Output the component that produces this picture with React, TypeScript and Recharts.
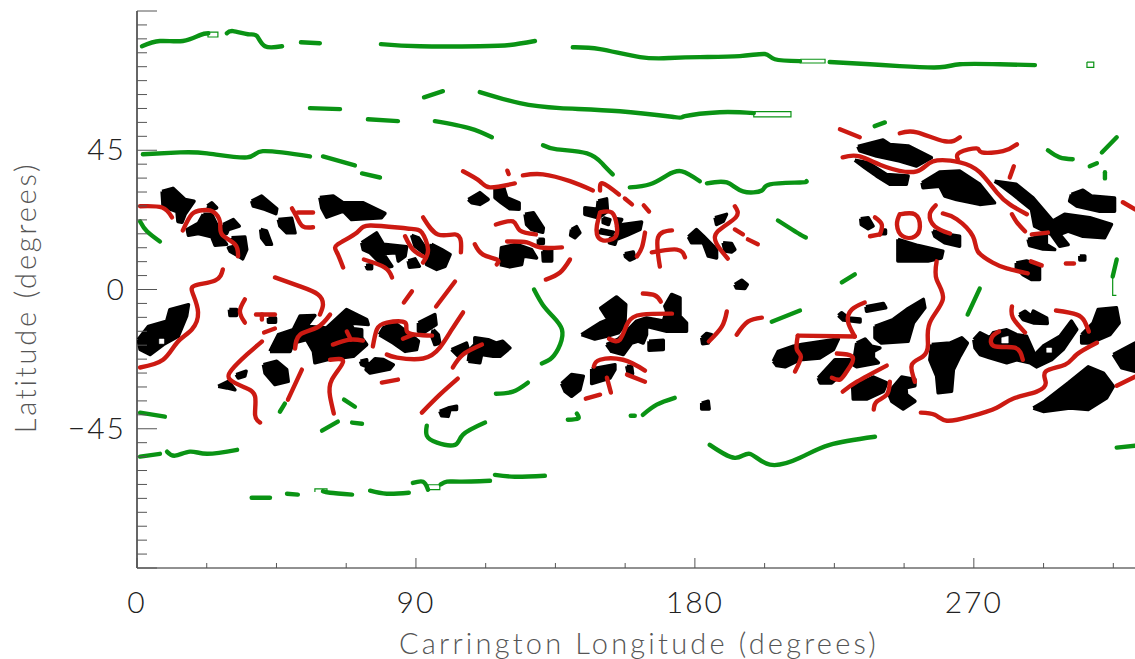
import React from 'react';
import { ScatterChart, Scatter, XAxis, YAxis } from 'recharts';

// each feature is a flat list: lon, lat, lon, lat ... in degrees
const greenLines: number[][] = [
  [1.6, 78.6, 7.4, 80.3, 14.8, 80.3, 20.3, 82.2, 23, 82.8],
  [29, 82.8, 31, 83.5, 35.8, 82.5, 38.7, 81.9, 41.3, 78.6, 46.8, 78.6],
  [52.9, 79.9, 59, 79.6],
  [78.7, 79.3, 91.3, 78.6, 110.6, 78.6, 120.3, 79, 128.4, 80.3],
  [140.6, 78.3, 149.4, 77.7, 162.3, 75.1, 171.9, 74.8, 181.6, 75.1, 194.5, 75.4, 202.6, 76.1, 205.8, 74.4, 213.9, 73.8],
  [223.5, 73.5, 236.5, 72.8, 246.1, 72.2, 259, 71.8, 265.5, 72.8, 278.4, 72.8, 289.7, 72.5],
  [55.8, 58.6, 65.5, 58.3],
  [74.5, 55, 84.2, 54.4],
  [92.6, 62.1, 98.7, 64.1],
  [110.6, 63.8, 123.5, 60.2, 136.5, 58.6, 155.8, 57.6, 173.5, 55.7, 176.8, 56, 188, 57.3, 199, 57],
  [96.1, 54.4, 107.4, 52.1, 114.5, 49.2],
  [1.9, 43.7, 13.9, 44.3, 22.6, 44, 35.5, 42.7, 40.6, 44.7, 55.8, 43],
  [60, 43, 70.3, 40.1],
  [72.6, 37.5, 78.4, 36.2],
  [131, 46.6, 135.5, 45.3, 145.2, 44, 150.3, 40.5, 153.5, 37.2],
  [159, 33, 165.5, 34, 171, 36.9, 175.8, 38.2, 181.6, 35],
  [183.9, 34.3, 190.3, 34.6, 195.5, 31.7, 201.6, 32, 204.2, 34, 213.9, 34.6, 216, 35],
  [206.8, 22.3, 213.9, 17.8, 215.8, 16.8],
  [1, 22, 3.2, 18.8, 7.4, 15.5],
  [238, 52.8, 241.3, 54],
  [293.9, 45, 297.7, 42.7, 301.9, 42.1],
  [311.3, 44.3, 316.1, 49.2],
  [307.4, 39.8, 309.7, 40.8],
  [312.3, 37.9, 312.3, 35.9],
  [227.4, 2.3, 231.6, 4.9],
  [316.1, 9.7, 314.8, 4.2],
  [268, -8.1, 271.9, 0.3],
  [204.8, -10.4, 213.9, -6.8],
  [128.1, 0, 130.9, -4.9, 134.2, -8.7, 137.1, -12.9, 136.5, -17.8, 133.9, -22, 130.6, -23.9],
  [115.8, -33.7, 121.3, -33, 126.1, -30.1],
  [139, -42.1, 142.3, -41.7, 141.9, -40.1],
  [159.3, -40.8, 160.6, -40.8],
  [163.2, -40.5, 167.7, -37.2, 173.5, -35],
  [1, -39.8, 9, -41.1],
  [46.1, -39.5, 47.7, -36.9],
  [59.7, -45.6, 64.8, -42.7],
  [66.8, -35.6, 70.3, -37.9],
  [69.4, -43, 72.6, -43.4],
  [93.5, -44, 93.5, -47.2, 96.8, -49.5, 102.6, -50.2, 105.2, -46.9, 112.3, -43],
  [1, -54, 7.4, -53.1],
  [9.7, -52.4, 12.3, -53.7, 17.1, -52.4, 22.6, -53.1, 32.3, -51.8],
  [37, -67.3, 42.9, -67.3],
  [48.4, -66, 51.9, -66.3],
  [60, -65.2, 62.3, -65.7, 69.4, -66.3],
  [75.2, -65, 80.6, -66, 87.7, -65.7],
  [89, -62.5, 92.3, -62.1, 93.9, -64.7],
  [98, -63, 100, -62.1, 104.2, -62.1, 113.9, -61.8],
  [115.5, -59.9, 121.9, -60.5, 131.6, -60.2],
  [184.8, -50.2, 192.9, -54.4, 197.7, -53.1, 204.2, -56.6, 213.9, -54.4, 223.5, -50.2, 238.1, -47.6],
  [316.1, -51.1, 322, -50.5],
];

// hollow stretches of the green traces, only an outline is drawn
const greenOutlines: number[][] = [
  [22.9, 83.2, 26.1, 83.2, 26.1, 81.6, 22.9, 81.6, 22.9, 83.2],
  [214, 74.4, 222, 74.4, 222, 73.2, 214, 73.2, 214, 74.4],
  [199, 57.5, 211, 57.5, 211, 55.8, 199, 55.8, 199, 57.5],
  [306.5, 73.5, 308.7, 73.5, 308.7, 71.8, 306.5, 71.8, 306.5, 73.5],
  [57.4, -65.4, 57.4, -64.4, 61.3, -64.4, 61.3, -65.4],
  [93.9, -63.1, 97.7, -63.1, 97.7, -64.7, 93.9, -64.7, 93.9, -63.1],
  [314.8, 4.2, 314.8, -1.9, 316, -1.9],
];

const redLines: number[][] = [
  [1, 26.9, 8.1, 26.5, 11.3, 23.3],
  [14.8, 19.1, 17.7, 24.3, 21, 25.6, 24.5, 25.2, 26.8, 21.7, 27.4, 17.8, 31.6, 14.6, 32.6, 10.7],
  [50, 26.2, 51.6, 23.3, 53.5, 20.4, 56.8, 20.1],
  [51.9, 24.9, 56.8, 24.9],
  [66.5, 7.1, 64.5, 12, 64.8, 14.6, 71, 18.4, 75.2, 20.7, 87.1, 19.7, 91.9, 18.4, 93.9, 12.9, 92.3, 8.7],
  [86.5, 17.2, 89, 12.9, 92.3, 10.7],
  [92.3, 23.3, 97.1, 17.8, 102.6, 17.8, 104.5, 15.5, 104.5, 12],
  [73.2, 9.7, 80, 7.1, 82.3, 3.9],
  [27.7, 6.5, 25.2, 2.9, 18.7, 1.3, 18.1, -1.6, 19.7, -7.4, 17.7, -12.9, 12.9, -17.2, 8.4, -22.7, 1, -25.2],
  [44.5, 3.9, 52.6, 1, 58.4, -1.6, 60, -4.9, 59, -8.1],
  [34.8, -3.2, 33.2, -7.1, 34.8, -10.7],
  [38.4, -8.1, 44.5, -8.1],
  [40.3, -9.7, 40.3, -8.1],
  [41, -13.9, 44.5, -12.6],
  [40.3, -16.8, 35.5, -21, 30.6, -25.9, 30, -29.1, 34.8, -31.7, 38.1, -34.6, 38.1, -40.5, 39.7, -43],
  [53.2, -25.9, 48.7, -35.6],
  [62.3, -22.7, 66.5, -23.3, 62.9, -29.1, 62.3, -34.6, 63.5, -40.1],
  [51, -19.1, 52.6, -14.6, 58.1, -12.3, 62.3, -8.1],
  [63.2, -17.8, 68.7, -16.2, 72.9, -16.5],
  [67.7, -13.6, 69, -16.2],
  [76.1, -18.4, 77.4, -12.9, 80.6, -10.7, 86.5, -10.7, 87.4, -13.9, 95.2, -14.9],
  [85.8, -15.9, 89, -14.6],
  [80.6, -21, 83.9, -22, 92.3, -22.3, 97.7, -18.8, 101.6, -12.9, 105.2, -7.4],
  [86.1, -4.2, 88.7, -0.6],
  [96.5, -5.5, 102.6, 2.6],
  [79, -30.1, 84.2, -29.1],
  [91.9, -39.8, 97.7, -34, 103.5, -28.8],
  [101.9, -25.2, 105.2, -21, 111.3, -17.8],
  [105.2, 38.2, 110.6, 35, 113.9, 33, 121.9, 34.3],
  [119.5, 38.4, 119.9, 37.3],
  [124.5, 36.9, 131, 37.2, 139.7, 35, 147.1, 32],
  [149.4, 32, 150.3, 34.3, 155.5, 30.7],
  [157.4, 29.4, 159.7, 27.5],
  [163.5, 27.2, 165.2, 25.2],
  [115.8, 21, 121.3, 22, 123.5, 19.1, 128.7, 17.8],
  [149.4, 24.9, 153.2, 24.9, 154.8, 20.7, 154.2, 16.8, 150.3, 15.9, 148.4, 17.8, 148.4, 20.7, 149.4, 24.9],
  [119.4, 15.5, 125.8, 15.2, 130, 13.6, 137.1, 13.6],
  [109, 14.6, 111.6, 11.3, 116.1, 9.7, 116.1, 8.1],
  [131.9, 3.2, 136.5, 5.5, 139.7, 9.7],
  [163.9, 18.4, 162.9, 13.6, 161.3, 10.7],
  [172.6, 19.1, 168.1, 16.8, 168.7, 7.4],
  [166.1, 12, 174.2, 12.9, 176.8, 10.4],
  [192.9, 26.9, 193.2, 23.3, 187.4, 18.8, 187.1, 14.6, 190.6, 10],
  [192.9, 19.4, 195.5, 17.8],
  [197.1, 16.2, 200.3, 14.6],
  [163.2, -1.3, 167.1, -1.9, 169, -3.9],
  [152.3, -15.9, 155.8, -16.2, 158.4, -10.7, 162.9, -8.1, 172.6, -7.8],
  [147.4, -24.9, 149.4, -22.7, 156.8, -22.7, 163.9, -26.2],
  [158.1, -27.5, 163.9, -29.8],
  [151.6, -28.5, 152.9, -33.3],
  [144.8, -35.3, 149.4, -34],
  [184.5, -16.8, 188.7, -12, 190.3, -7.1],
  [193.5, -14.6, 197.1, -10.4, 201.6, -9.1],
  [226.8, 51.8, 233.2, 49.2],
  [246.1, 50.5, 251.6, 50.8, 260.6, 47.9, 265.5, 49.2],
  [227.7, 42.7, 233.2, 43, 241.9, 39.5, 251.6, 38.2, 256.8, 41.4, 265.5, 41.1, 271.9, 37.9, 277.4, 31.4, 281.6, 27.5, 287.1, 24.3],
  [264.8, 42.1, 265.5, 44.3, 270.9, 45.6, 272.6, 44.3, 279.4, 44.7, 283.9, 46.9],
  [282.9, 39.8, 281.6, 36.2],
  [282.3, 24.3, 283.9, 21.7, 286.5, 18.8],
  [288.7, 17.8, 293.9, 18.4],
  [238.1, 23.3, 240.3, 21, 239.7, 17.8],
  [236.5, 17.2, 239.7, 17.8],
  [246.1, 24.3, 251, 24.3, 252.6, 20.4, 251, 17.2, 247.1, 17.2, 245.2, 21, 246.1, 24.3],
  [257.7, 27.2, 255.8, 24.3, 257.4, 20.4, 262.3, 18.1],
  [260, 24.6, 264.5, 22.7, 269.7, 17.2, 271.3, 12.3, 276.1, 8.7, 280.6, 6.8, 287.4, 5.2],
  [288.4, 9.1, 291.9, 7.8],
  [299.7, 8.4, 302.3, 8.4],
  [318.1, 28.2, 322, 25.9],
  [258, 9.1, 258, 3.2, 260, -3.2, 255.8, -10.7, 255.2, -17.8, 253.5, -21.7, 250, -24.3, 251, -29.8],
  [234.8, -4.2, 230.6, -6.5, 229.4, -10.4, 231.6, -15.2],
  [231.6, -15.2, 213.2, -14.9],
  [213.2, -14.9, 212.9, -19.4, 214.2, -21.7, 212.3, -26.5],
  [225.8, -20.7, 231, -22, 229, -26.5, 226.8, -29.1, 224.2, -28.5],
  [227.7, -33, 232.3, -29.8, 241.9, -24.6],
  [237.7, -38.8, 238.7, -36.2, 241.9, -34, 242.9, -29.8],
  [252.9, -39.8, 257.4, -40.5, 261.3, -42.4, 268.7, -41.1, 277.4, -38.2, 282.6, -35.3, 290.3, -33, 293.2, -30.1, 293.2, -26.5, 299.4, -24.3, 303.2, -21, 309.7, -17.2],
  [282.3, -5.5, 282.6, -9.1, 286.5, -13.9],
  [278.1, -13.6, 275.8, -15.5, 276.8, -18.4, 283.2, -18.8, 285.8, -22.7],
  [296.5, -6.8, 303.2, -8.1, 305.8, -10.4, 307.1, -13.6],
  [316.1, -31.1, 322, -28.2],
];

const blackBlobs: number[][] = [
  [8.1, 31.7, 11.6, 32.7, 15.5, 29.1, 18.4, 28.5, 15.5, 24.3, 14.5, 21.7, 13.2, 22, 12.9, 25.2, 8.4, 26.9],
  [22.7, 27, 24.1, 28, 25.7, 26.4, 24.1, 25.7],
  [21.4, 24.3, 24.1, 24.3, 25.7, 21, 27.3, 16.7, 28.9, 14.6, 25.2, 14.3, 24.1, 17, 19.8, 18.1, 16.6, 17.5, 16.2, 19.4, 19.8, 21.4],
  [27.8, 21, 31.1, 22.6, 33, 20.5, 29.5, 19.4, 28.9, 18.1, 27.8, 18.3],
  [30.5, 16.7, 34.8, 17, 35.4, 12.9, 34.1, 9.9, 32.7, 10.8, 30, 12.4, 29.5, 13.5, 31.6, 14],
  [37, 28.6, 40.2, 30.2, 45.1, 26.1, 44.8, 24.5, 41.3, 25.9, 37.5, 27],
  [45.6, 22.6, 49.9, 23, 51, 18.3, 48.3, 18.3, 46.1, 20.5],
  [39.9, 19.4, 41.8, 18.9, 43.4, 14.6, 41.8, 14.6, 40.2, 16.7],
  [59, 29.7, 63.3, 30.2, 66.6, 28, 73, 28, 80, 24.6, 78.9, 23.2, 69.2, 22.6, 66.6, 25.3, 61.2, 23.4, 59.6, 26.4],
  [72.5, 15.1, 77.3, 18.3, 79.5, 14.6, 87, 13.8, 86.5, 10.8, 84.3, 9.2, 83.8, 11.9, 79.5, 11.6, 82.2, 7.5, 80, 7, 75.2, 11.9, 73, 12.9],
  [73.9, 7.8, 75.7, 8.1, 75.7, 6.7, 74.3, 6.7],
  [88.6, 17.5, 90.8, 16.7, 93.4, 12.9, 92.4, 11.9, 89.7, 14],
  [95, 14.6, 98.3, 12.9, 101, 11.3, 99.4, 7.5, 96.7, 6.5, 93.4, 8.1, 92.9, 10.8],
  [87.5, 9.2, 89.7, 9.9, 91.1, 7.5, 87.9, 7.2],
  [106.9, 29.1, 110.6, 31.3, 113.3, 29.1, 110.6, 27.5, 108, 28],
  [0.4, -16.2, 3.7, -11.9, 9.6, -10.2, 10.6, -6.5, 16.6, -4.9, 16, -8.6, 13.3, -15.1, 8.5, -17.8, 4.2, -21, 1, -19.4],
  [29.8, -6.5, 32.1, -6.5, 32.1, -8.4, 30, -8.4],
  [42.4, -9.2, 44.7, -9.2, 44.7, -10.6, 42.4, -10.6],
  [42.9, -20, 45.6, -14.6, 50.4, -13, 52.6, -8.6, 57.4, -8.4, 54.7, -11.9, 61.2, -12.4, 67.6, -6.5, 74.1, -9.7, 74.6, -11.3, 68.7, -10.8, 69.8, -12.7, 72.5, -13, 72.5, -15.6, 74.1, -17.8, 69.8, -21.6, 61.2, -22.7, 57.4, -23.7, 56.9, -20, 54.7, -16.2, 50.4, -17.3, 49.4, -20],
  [40.8, -24.3, 45.1, -23.2, 48.3, -25.9, 48.8, -29.7, 44.5, -30.7, 41.3, -27],
  [26.2, -31.3, 29.5, -29.7, 31.6, -32.4, 29, -31.8],
  [32, -27.5, 35.2, -26.4, 34.8, -28, 32.7, -28.6],
  [72.1, -23.2, 74.1, -22.7, 74.3, -24.8, 76.8, -22.4, 79.5, -22.6, 82.7, -24.3, 81.6, -25.7, 75.2, -27, 73.9, -25.9, 74.3, -25, 72.5, -24.3],
  [78.2, -14.6, 79.5, -12.4, 83.2, -10.8, 87.5, -14, 90.8, -16.7, 90.2, -19.4, 86.5, -20, 82.7, -17.3],
  [90.8, -10.8, 96.1, -8.1, 96.5, -11.3, 92.4, -14, 90.8, -13.5],
  [95.6, -13, 97.2, -14.6, 97.7, -17.3, 96.1, -17.8, 95.1, -15.1],
  [101.5, -19.4, 106.3, -17.3, 106.9, -19.4, 103.7, -21.6],
  [106.9, -23.2, 107.4, -19.4, 109, -17.8, 109, -15.6, 113.3, -16.2, 116, -17.3, 118, -16.7, 120.3, -18.9, 117.1, -21.6, 114.9, -21.6, 111.2, -21, 110.6, -23.7],
  [97.7, -39.4, 100.4, -38.3, 103.1, -37.7, 103.1, -38.8, 101, -38.8, 100.4, -41, 98.3, -40.8],
  [115.5, 32.9, 118.2, 33.4, 119.3, 29.7, 123.3, 28, 123.3, 25.9, 120.3, 26.1, 117.6, 28, 115.5, 29.7],
  [125.2, 24.3, 127.9, 24.8, 131.1, 19.9, 130.9, 18.5, 127.3, 19.4, 125.7, 21],
  [117.1, 8.1, 117.6, 13.5, 122.5, 14.6, 127.3, 12.9, 128.9, 10.2, 124.6, 10.8, 124.1, 8.1, 120.3, 7.3],
  [129.5, 16.2, 131.1, 16.2, 131.1, 14.9, 129.5, 14.9],
  [130.9, 12.4, 133.8, 12.9, 133.8, 9.2, 131.1, 9.2],
  [140.2, 19.4, 141.8, 20.3, 142.9, 18.3, 141.3, 16.7, 139.9, 17.5],
  [148.8, 28.6, 151.5, 29.3, 151.8, 25.3, 148.8, 23.2, 144.5, 24.3, 144.5, 26.4, 148.5, 25.9],
  [150.4, 23.2, 152.6, 22.6, 152.1, 21, 150.4, 21.6],
  [149.4, 19.4, 153.7, 18.5, 153.1, 17.7, 149.4, 18.3],
  [154.7, 20.5, 156.9, 21, 162.8, 21.8, 162.3, 19.4, 158, 17.5, 154.7, 16.2, 154.2, 14.6, 152.4, 15.1, 152.6, 16.4, 155.3, 17.8],
  [154.7, 22.9, 156.4, 22.6, 155.8, 21.6, 154.7, 21.8],
  [157.4, 11.6, 160.1, 12.1, 160.6, 10.2, 159, 9.5, 157.6, 10.6],
  [186.5, 23.2, 190.2, 24.3, 189.2, 22.1, 187, 21],
  [177.9, 17, 180.5, 19.4, 182.7, 17.3, 187, 12.9, 187, 10.2, 184.3, 10.8, 182.7, 15.1, 178.9, 15.1],
  [189.1, 15.1, 191.8, 14.9, 192.9, 12.9, 191.8, 12.1, 189.7, 12.4],
  [192.9, 1.6, 195.1, 3, 196.9, 1.6, 196.1, 0.3, 193.4, 0.5],
  [143.4, -14.6, 149.4, -10.8, 152, -9.7, 149.6, -6, 154.7, -2.4, 157.7, -4.9, 157.4, -11.3, 155.3, -14, 151.5, -15.1, 147.7, -16],
  [151.5, -17.8, 155.3, -16, 158, -13.5, 161.2, -10.2, 164.4, -9.2, 169.8, -10.2, 170.9, -7, 170.3, -5.4, 172.5, -1.6, 175.2, -2.7, 175.2, -8.6, 177.3, -10.8, 177.3, -13.5, 170.9, -13.5, 164.4, -11.9, 164.4, -14.6, 163.3, -17.3, 161.7, -16.7, 159.6, -17.3, 156.9, -21, 153.1, -20],
  [165.2, -16.7, 169.8, -16.4, 169.8, -19.4, 165.2, -19.6],
  [146.7, -25.7, 154.2, -24.3, 154.2, -25.9, 152.6, -28.6, 146.7, -30.4],
  [158, -24.8, 159.6, -25, 159.9, -27.2, 158.5, -27.2],
  [137, -30.4, 140.2, -27.5, 144, -28, 142.9, -32.4, 140.2, -34.5, 138.1, -32.9],
  [182.2, -36.7, 184.3, -36.1, 184.6, -38.6, 182.2, -38.6],
  [182.2, -15.6, 183.8, -14.2, 185.4, -14.6, 184.3, -17.3, 182.5, -17.5],
  [232.6, 46.2, 240.7, 48.3, 242.9, 46.9, 248.8, 46.4, 256.3, 42.6, 251.5, 39.9, 246.1, 41.5, 238.6, 43.1, 233.2, 44.8],
  [231.6, 41.8, 235.9, 41, 241.8, 37.2, 248.8, 36.7, 248.2, 34, 242.9, 34, 238.6, 36.7, 234.8, 39.4],
  [253.3, 34.5, 259, 38, 265.4, 38.3, 271.9, 34, 276.7, 28, 271.9, 27.5, 264.4, 29.1, 260.6, 30.2, 259, 33.4, 253.6, 32.9],
  [276.7, 35, 283.7, 34, 289.1, 29.6, 295.5, 22.1, 299.3, 24.3, 307.4, 23.2, 314.4, 21, 312.2, 16.7, 305.2, 17.2, 300.4, 18.9, 297.7, 17.8, 300.4, 14.5, 297.7, 14, 295, 17.8, 289.6, 20.5, 288.6, 25.9, 282.6, 30.7, 278.3, 34],
  [301.5, 30.7, 305.2, 32.1, 307.9, 30.2, 315.4, 29.6, 315.4, 25.3, 310.6, 25.3, 303.1, 27, 300.9, 28.6],
  [287.5, 16.2, 293.4, 17.8, 293.4, 14.5, 296.1, 12.9, 292.3, 13.1, 288, 14.2],
  [283.7, 8.6, 287, 9.2, 289.1, 8.6, 291.2, 7, 291.2, 3.2, 288.6, 3.2, 285.9, 4.8, 283.7, 7],
  [304.2, 10.8, 305.8, 10.8, 305.8, 9.5, 304.2, 9.5],
  [245.5, 16.2, 252, 14.2, 260, 12.4, 259.5, 10.2, 255.2, 9.2, 245.5, 9.2],
  [256.8, 18.9, 261.7, 17.8, 265.4, 17.2, 265.4, 14, 260.6, 15.1, 257.4, 17.2],
  [233.5, 22.9, 235.9, 23.2, 237.5, 20.5, 235.9, 19.6, 233.7, 21],
  [240.2, 19.2, 241.5, 19.2, 241.5, 18, 240.2, 18],
  [235.2, -5.6, 240.8, -4.5, 241.6, -5.9, 235.4, -7],
  [226.3, -8.4, 227.3, -7.5, 229.5, -9.2, 233.3, -9.5, 233.3, -10.5, 227.9, -9.9],
  [238.1, -11.9, 244, -9.7, 248.3, -6.5, 253.7, -3.2, 254.2, -5.9, 250.5, -10.8, 248.8, -16.7, 240.2, -17.3, 238.1, -15.6],
  [205.3, -23.2, 206.9, -20, 211.8, -18.3, 214.4, -17.8, 226.3, -16, 224.7, -19.4, 220.4, -22.1, 213.9, -22.7, 209.1, -25, 206.4, -24.6],
  [219.8, -28.6, 225.2, -22.7, 230, -22.7, 228.4, -26.4, 224.1, -30.2, 220.4, -30.2],
  [232.2, -17.3, 234.9, -16, 237, -18.3, 239.7, -18.9, 237.6, -20, 237.6, -22.1, 239.2, -23.7, 232.2, -25, 231.1, -24.3],
  [230.9, -31.3, 237.6, -28.3, 241.9, -30.2, 240.8, -32.9, 235.4, -35.4, 231.1, -35.4],
  [242.4, -33.4, 246.7, -28.3, 251, -29.1, 251, -31.1, 248.1, -31.8, 248.3, -34, 251, -36.1, 247.2, -38.6, 243.5, -36.1],
  [256.4, -17.8, 262.3, -17.3, 266.1, -15.6, 267.9, -17.3, 265.5, -21.6, 263.4, -25.9, 262.8, -32.9, 258.5, -33.4, 258, -28, 255.8, -22.7],
  [270, -16.2, 272, -14, 275.2, -15.6, 276.3, -14, 280.6, -13, 283.8, -14.6, 287, -15.1, 289.2, -20, 289.2, -21.6, 292.4, -18.3, 297.8, -15.1, 301.5, -10.2, 303.2, -12.9, 298.8, -19.4, 295.1, -22.7, 290.2, -25, 288.1, -23.7, 283.8, -22.7, 280.6, -23.7, 275.2, -22.1, 272, -21, 270.4, -18.9],
  [284.7, -8.1, 286.5, -7, 288.6, -8.6, 289.2, -7, 293.5, -9.2, 293.7, -11, 289.2, -10.8, 285.9, -9.7],
  [304.8, -14.6, 308.5, -10.8, 310.1, -6.5, 316, -5.9, 316.9, -10.8, 313.9, -14.6, 307.5, -17.3, 304.8, -17.3],
  [315, -21, 322, -17.3, 322, -26.4, 317.7, -25.3],
  [289.2, -38.3, 292.9, -36.1, 300.5, -30.2, 306.9, -25, 311.8, -27, 315, -31.3, 312.8, -35.1, 306.9, -38.8, 301, -38.3, 292.4, -39.4],
];

const blobHoles: number[][] = [
  [279, -15.6, 281.1, -15.1, 281.1, -17.3, 279, -17.3],
  [293.5, -18.9, 295.1, -18.9, 295.1, -20.3, 293.5, -20.3],
  [7.2, -16, 8.7, -16, 8.7, -17.5, 7.2, -17.5],
];

const lonTicks = [0, 22.5, 45, 67.5, 90, 112.5, 135, 157.5, 180, 202.5, 225, 247.5, 270, 292.5, 315];
const latTicks = [
  -90, -85.5, -81, -76.5, -72, -67.5, -63, -58.5, -54, -49.5, -45, -40.5, -36, -31.5, -27, -22.5, -18, -13.5, -9, -4.5,
  0, 4.5, 9, 13.5, 18, 22.5, 27, 31.5, 36, 40.5, 45, 49.5, 54, 58.5, 63, 67.5, 72, 76.5, 81, 85.5, 90,
];

const FONT = 'Lato, "Liberation Sans", sans-serif';
const AXIS = '#555';
const GREEN = '#0a9314';
const RED = '#cc1a12';

const toPoints = (flat: number[], close = false) => {
  const pts: { x: number; y: number }[] = [];
  for (let i = 0; i < flat.length; i += 2) pts.push({ x: flat[i], y: flat[i + 1] });
  if (close) pts.push(pts[0]);
  return pts;
};

const noDot = () => <g />;

const BottomTick = ({ x, y, payload }: any) => {
  const major = payload.value % 90 === 0;
  return (
    <g>
      <line x1={x} x2={x} y1={y} y2={y - (major ? 10 : 5)} stroke={AXIS} />
      {major && (
        <text x={x} y={y + 45} textAnchor="middle" fontFamily={FONT} fontSize={30} fontWeight={300} fill="#222" letterSpacing={2}>
          {payload.value}
        </text>
      )}
    </g>
  );
};

const TopTick = ({ x, y, payload }: any) => (
  <line x1={x} x2={x} y1={y} y2={y + (payload.value % 90 === 0 ? 10 : 5)} stroke={AXIS} />
);

const LeftTick = ({ x, y, payload }: any) => {
  const major = payload.value % 45 === 0;
  const showText = major && Math.abs(payload.value) < 90;
  return (
    <g>
      <line x1={x} x2={x + (major ? 20 : 10)} y1={y} y2={y} stroke={AXIS} />
      {showText && (
        <text x={x - 11} y={y + 10} textAnchor="end" fontFamily={FONT} fontSize={30} fontWeight={300} fill="#222" letterSpacing={2}>
          {payload.value < 0 ? `\u2212${-payload.value}` : payload.value}
        </text>
      )}
    </g>
  );
};

export default function App() {
  return (
    <div style={{ position: 'absolute', left: 0, top: 0, background: '#fff' }}>
      <ScatterChart width={1135} height={659} margin={{ top: 11, right: 0, bottom: 0, left: 0 }}>
        <XAxis
          dataKey="x"
          type="number"
          domain={[0, 322]}
          ticks={lonTicks}
          interval={0}
          height={91}
          tick={<BottomTick />}
          tickLine={false}
          tickSize={0}
          tickMargin={0}
          stroke="#222"
          allowDataOverflow
          label={{ value: 'Carrington Longitude (degrees)', position: 'insideBottom', offset: 5, fontFamily: FONT, fontSize: 29, fontWeight: 300, fill: '#555', letterSpacing: 3.2, dx: 3 }}
        />
        <XAxis xAxisId="top" orientation="top" type="number" domain={[0, 322]} ticks={lonTicks} interval={0} height={0} tick={<TopTick />} tickLine={false} tickSize={0} tickMargin={0} stroke="#333" />
        <YAxis
          dataKey="y"
          type="number"
          domain={[-90, 90]}
          ticks={latTicks}
          interval={0}
          width={137}
          tick={<LeftTick />}
          tickLine={false}
          tickSize={0}
          tickMargin={0}
          stroke="#666"
          strokeWidth={2}
          label={{ value: 'Latitude (degrees)', angle: -90, position: 'insideLeft', offset: 26, fontFamily: FONT, fontSize: 29, fontWeight: 300, fill: '#555', letterSpacing: 2.8, dy: 8, textAnchor: 'middle' }}
        />
        {blackBlobs.map((b, i) => (
          <Scatter key={`blob-${i}`} data={toPoints(b, true)} fill="#000" shape={noDot} line={{ stroke: '#000', fill: '#000', strokeWidth: 3.5, strokeLinejoin: 'round' }} isAnimationActive={false} />
        ))}
        {blobHoles.map((b, i) => (
          <Scatter key={`hole-${i}`} data={toPoints(b, true)} fill="#fff" shape={noDot} line={{ stroke: '#fff', fill: '#fff', strokeWidth: 0.5 }} isAnimationActive={false} />
        ))}
        {greenOutlines.map((l, i) => (
          <Scatter key={`outline-${i}`} data={toPoints(l)} fill={GREEN} shape={noDot} line={{ stroke: GREEN, fill: 'none', strokeWidth: 1.2 }} isAnimationActive={false} />
        ))}
        {greenLines.map((l, i) => (
          <Scatter key={`green-${i}`} data={toPoints(l)} fill={GREEN} shape={noDot} lineJointType="natural" line={{ stroke: GREEN, fill: 'none', strokeWidth: 4.4, strokeLinecap: 'round', strokeLinejoin: 'round' }} isAnimationActive={false} />
        ))}
        {redLines.map((l, i) => (
          <Scatter key={`red-${i}`} data={toPoints(l)} fill={RED} shape={noDot} lineJointType="natural" line={{ stroke: RED, fill: 'none', strokeWidth: 4.4, strokeLinecap: 'round', strokeLinejoin: 'round' }} isAnimationActive={false} />
        ))}
      </ScatterChart>
    </div>
  );
}
